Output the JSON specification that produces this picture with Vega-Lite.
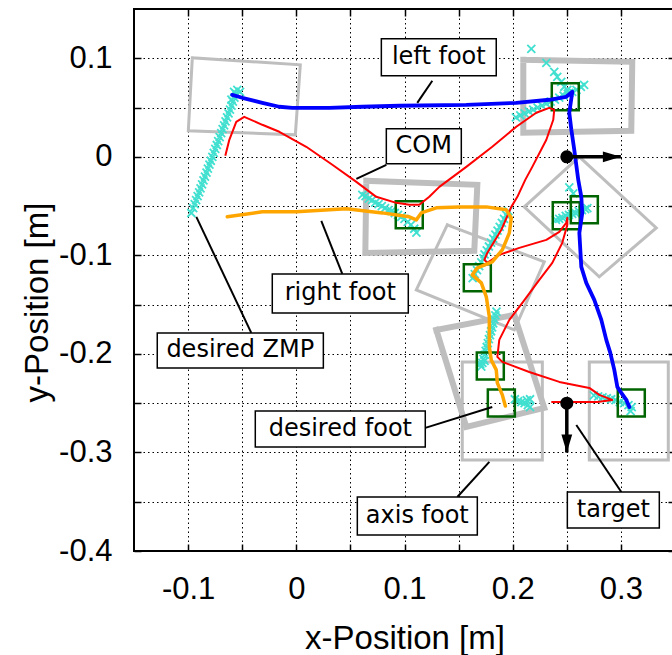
{
"$schema":"https://vega.github.io/schema/vega-lite/v6.json",
"width":541,"height":542,"autosize":"none",
"padding":{"left":134,"top":9,"right":0,"bottom":104},
"background":"white",
"config":{
 "view":{"stroke":"black","strokeWidth":2},
 "axis":{"labelFont":"Liberation Sans","labelFontSize":31,"labelColor":"black","titleFont":"Liberation Sans","titleFontSize":33,"titleFontWeight":"normal","titleColor":"black","gridColor":"black","gridDash":[1.5,3],"gridWidth":1,"gridOpacity":1,"tickColor":"black","tickWidth":1.5,"tickSize":-7,"domain":false,"labelFlush":false,"labelOverlap":false}
},
"datasets":{
 "feetThin":[
  {"id":1,"x":-0.0961,"y":0.1005},{"id":1,"x":0.0037,"y":0.0934},{"id":1,"x":-0.0009,"y":0.0223},{"id":1,"x":-0.0998,"y":0.0264},{"id":1,"x":-0.0961,"y":0.1005},
  {"id":4,"x":0.2107,"y":-0.0508},{"id":4,"x":0.2616,"y":0.0},{"id":4,"x":0.3327,"y":-0.0721},{"id":4,"x":0.28,"y":-0.1218},{"id":4,"x":0.2107,"y":-0.0508},
  {"id":5,"x":0.1396,"y":-0.069},{"id":5,"x":0.2292,"y":-0.1066},{"id":5,"x":0.2015,"y":-0.1756},{"id":5,"x":0.1109,"y":-0.135},{"id":5,"x":0.1396,"y":-0.069},
  {"id":7,"x":0.1534,"y":-0.2081},{"id":7,"x":0.2274,"y":-0.2081},{"id":7,"x":0.2274,"y":-0.3076},{"id":7,"x":0.1534,"y":-0.3076},{"id":7,"x":0.1534,"y":-0.2081},
  {"id":8,"x":0.2708,"y":-0.2081},{"id":8,"x":0.3438,"y":-0.2081},{"id":8,"x":0.3438,"y":-0.3076},{"id":8,"x":0.2708,"y":-0.3076},{"id":8,"x":0.2708,"y":-0.2081}
 ],
 "feetThick":[
  {"id":2,"x":0.2098,"y":0.0985},{"id":2,"x":0.3105,"y":0.0964},{"id":2,"x":0.3096,"y":0.0264},{"id":2,"x":0.2098,"y":0.0244},{"id":2,"x":0.2098,"y":0.0985},
  {"id":3,"x":0.0647,"y":-0.0244},{"id":3,"x":0.1673,"y":-0.0284},{"id":3,"x":0.1645,"y":-0.0954},{"id":3,"x":0.0638,"y":-0.0975},{"id":3,"x":0.0647,"y":-0.0244},
  {"id":6,"x":0.1294,"y":-0.1756},{"id":6,"x":0.2015,"y":-0.1604},{"id":6,"x":0.2292,"y":-0.2548},{"id":6,"x":0.1571,"y":-0.2741},{"id":6,"x":0.1294,"y":-0.1756}
 ],
 "zmp":[
  {"x":-0.097,"y":-0.057},{"x":-0.0953,"y":-0.052},{"x":-0.0939,"y":-0.048},{"x":-0.0926,"y":-0.044},{"x":-0.0912,"y":-0.04},{"x":-0.0898,"y":-0.036},{"x":-0.0885,"y":-0.032},{"x":-0.0871,"y":-0.028},{"x":-0.0858,"y":-0.024},{"x":-0.0844,"y":-0.02},{"x":-0.083,"y":-0.016},{"x":-0.0817,"y":-0.012},{"x":-0.0803,"y":-0.008},{"x":-0.079,"y":-0.004},{"x":-0.0776,"y":0.0},{"x":-0.0763,"y":0.004},{"x":-0.0749,"y":0.008},{"x":-0.0735,"y":0.012},{"x":-0.0722,"y":0.016},{"x":-0.0708,"y":0.02},{"x":-0.0694,"y":0.024},{"x":-0.0681,"y":0.028},{"x":-0.0667,"y":0.032},{"x":-0.0654,"y":0.036},{"x":-0.064,"y":0.04},{"x":-0.0626,"y":0.044},{"x":-0.0613,"y":0.048},{"x":-0.0599,"y":0.052},{"x":-0.0586,"y":0.056},{"x":-0.0572,"y":0.06},{"x":-0.0558,"y":0.064},{"x":-0.0545,"y":0.068},{"x":-0.052,"y":0.066},{"x":-0.0575,"y":0.066},{"x":-0.06,"y":0.058},
  {"x":0.061,"y":-0.0386},{"x":0.064,"y":-0.04},{"x":0.067,"y":-0.0425},{"x":0.07,"y":-0.044},{"x":0.073,"y":-0.0465},{"x":0.076,"y":-0.048},{"x":0.079,"y":-0.05},{"x":0.082,"y":-0.052},{"x":0.085,"y":-0.054},{"x":0.088,"y":-0.055},{"x":0.091,"y":-0.057},{"x":0.094,"y":-0.059},{"x":0.097,"y":-0.061},{"x":0.1,"y":-0.063},{"x":0.103,"y":-0.066},{"x":0.106,"y":-0.069},{"x":0.109,"y":-0.073},{"x":0.111,"y":-0.077},
  {"x":0.196,"y":-0.055},{"x":0.194,"y":-0.059},{"x":0.192,"y":-0.063},{"x":0.19,"y":-0.067},{"x":0.188,"y":-0.071},{"x":0.186,"y":-0.075},{"x":0.184,"y":-0.079},{"x":0.182,"y":-0.083},{"x":0.18,"y":-0.087},{"x":0.178,"y":-0.091},{"x":0.176,"y":-0.095},{"x":0.174,"y":-0.099},{"x":0.173,"y":-0.103},{"x":0.171,"y":-0.107},{"x":0.169,"y":-0.111},{"x":0.167,"y":-0.115},{"x":0.165,"y":-0.119},{"x":0.163,"y":-0.123},
  {"x":0.2523,"y":-0.031},{"x":0.256,"y":-0.037},
  {"x":0.24,"y":-0.064},{"x":0.243,"y":-0.063},{"x":0.246,"y":-0.062},{"x":0.249,"y":-0.06},{"x":0.252,"y":-0.059},{"x":0.255,"y":-0.058},{"x":0.258,"y":-0.057},{"x":0.261,"y":-0.055},{"x":0.264,"y":-0.054},{"x":0.267,"y":-0.053},{"x":0.269,"y":-0.052},
  {"x":0.2172,"y":0.1096},{"x":0.2311,"y":0.0954},{"x":0.2384,"y":0.0863},{"x":0.2412,"y":0.0812},{"x":0.2449,"y":0.0761},{"x":0.2477,"y":0.0711},{"x":0.2505,"y":0.068},{"x":0.2523,"y":0.065},
  {"x":0.203,"y":0.04},{"x":0.207,"y":0.042},{"x":0.211,"y":0.044},{"x":0.215,"y":0.046},{"x":0.219,"y":0.048},{"x":0.223,"y":0.05},{"x":0.227,"y":0.052},{"x":0.231,"y":0.054},{"x":0.235,"y":0.056},{"x":0.239,"y":0.058},{"x":0.243,"y":0.06},{"x":0.247,"y":0.062},{"x":0.251,"y":0.064},{"x":0.255,"y":0.066},{"x":0.259,"y":0.068},{"x":0.263,"y":0.071},{"x":0.266,"y":0.073},
  {"x":0.185,"y":-0.157},{"x":0.184,"y":-0.161},{"x":0.183,"y":-0.165},{"x":0.182,"y":-0.169},{"x":0.181,"y":-0.173},{"x":0.18,"y":-0.177},{"x":0.179,"y":-0.181},{"x":0.178,"y":-0.185},{"x":0.177,"y":-0.189},{"x":0.176,"y":-0.193},{"x":0.175,"y":-0.197},{"x":0.174,"y":-0.201},{"x":0.173,"y":-0.205},{"x":0.172,"y":-0.209},{"x":0.171,"y":-0.213},{"x":0.17,"y":-0.21},{"x":0.174,"y":-0.207},
  {"x":0.202,"y":-0.246},{"x":0.205,"y":-0.248},{"x":0.208,"y":-0.249},{"x":0.211,"y":-0.25},{"x":0.214,"y":-0.252},{"x":0.216,"y":-0.254},{"x":0.213,"y":-0.247},{"x":0.216,"y":-0.246},
  {"x":0.275,"y":-0.242},{"x":0.279,"y":-0.243},{"x":0.283,"y":-0.244},{"x":0.287,"y":-0.245},{"x":0.291,"y":-0.246},{"x":0.295,"y":-0.247},{"x":0.299,"y":-0.249},{"x":0.303,"y":-0.25},{"x":0.307,"y":-0.252},{"x":0.31,"y":-0.254},{"x":0.309,"y":-0.258}
 ],
 "desiredFoot":[
  {"x":0.1044,"y":-0.0589},{"x":0.2486,"y":0.0609},{"x":0.2495,"y":-0.0599},{"x":0.2662,"y":-0.0538},{"x":0.1673,"y":-0.1228},{"x":0.1793,"y":-0.2122},{"x":0.1895,"y":-0.2497},{"x":0.3096,"y":-0.2497}
 ],
 "com":[
  {"x":-0.0656,"y":0.001},{"x":-0.0619,"y":0.0173},{"x":-0.0555,"y":0.0355},{"x":-0.0481,"y":0.0406},{"x":-0.0314,"y":0.0325},{"x":-0.0157,"y":0.0254},{"x":0.0092,"y":0.0102},{"x":0.0333,"y":-0.0081},{"x":0.0555,"y":-0.0254},{"x":0.0739,"y":-0.0406},{"x":0.0924,"y":-0.0467},{"x":0.1044,"y":-0.0487},{"x":0.1137,"y":-0.0487},{"x":0.1229,"y":-0.0406},{"x":0.1322,"y":-0.0305},{"x":0.1571,"y":-0.0102},{"x":0.1811,"y":0.0102},{"x":0.2033,"y":0.0305},{"x":0.2218,"y":0.0447},{"x":0.2338,"y":0.0497},{"x":0.2384,"y":0.0477},{"x":0.2375,"y":0.0376},{"x":0.2311,"y":0.0173},{"x":0.2181,"y":-0.0102},{"x":0.2116,"y":-0.0234},{"x":0.2043,"y":-0.0406},{"x":0.1987,"y":-0.0508},{"x":0.1895,"y":-0.0741},{"x":0.1765,"y":-0.0975},{"x":0.1738,"y":-0.1046},{"x":0.1765,"y":-0.1076},{"x":0.1876,"y":-0.0995},{"x":0.2061,"y":-0.0924},{"x":0.2311,"y":-0.0843},{"x":0.2431,"y":-0.0761},{"x":0.2495,"y":-0.067},{"x":0.2505,"y":-0.0619},{"x":0.2505,"y":-0.069},{"x":0.2458,"y":-0.0873},{"x":0.2366,"y":-0.1076},{"x":0.2246,"y":-0.1249},{"x":0.2089,"y":-0.1482},{"x":0.1969,"y":-0.1655},{"x":0.1876,"y":-0.1858},{"x":0.1858,"y":-0.203},{"x":0.1904,"y":-0.2081},{"x":0.2153,"y":-0.2183},{"x":0.2431,"y":-0.2284},{"x":0.2708,"y":-0.2345},{"x":0.28,"y":-0.2416},{"x":0.292,"y":-0.2467},{"x":0.2782,"y":-0.2487},{"x":0.2495,"y":-0.2487},{"x":0.2357,"y":-0.2487}
 ],
 "rightFoot":[
  {"x":-0.0638,"y":-0.0609},{"x":-0.0314,"y":-0.0558},{"x":0.0,"y":-0.0558},{"x":0.0462,"y":-0.0528},{"x":0.0795,"y":-0.0569},{"x":0.1044,"y":-0.0609},{"x":0.1109,"y":-0.064},{"x":0.1155,"y":-0.0569},{"x":0.1294,"y":-0.0518},{"x":0.1506,"y":-0.0508},{"x":0.1756,"y":-0.0508},{"x":0.194,"y":-0.0538},{"x":0.1987,"y":-0.0619},{"x":0.1969,"y":-0.0772},{"x":0.1904,"y":-0.0944},{"x":0.1811,"y":-0.1066},{"x":0.1673,"y":-0.1127},{"x":0.1627,"y":-0.1198},{"x":0.171,"y":-0.1279},{"x":0.1756,"y":-0.1421},{"x":0.1784,"y":-0.1624},{"x":0.1784,"y":-0.1929},{"x":0.1802,"y":-0.2061},{"x":0.1848,"y":-0.2162},{"x":0.1858,"y":-0.2294},{"x":0.1904,"y":-0.2416},{"x":0.1932,"y":-0.2528}
 ],
 "leftFoot":[
  {"x":-0.0592,"y":0.0629},{"x":-0.0499,"y":0.0599},{"x":-0.0314,"y":0.0548},{"x":-0.0157,"y":0.0508},{"x":-0.0037,"y":0.0497},{"x":0.0305,"y":0.0497},{"x":0.061,"y":0.0508},{"x":0.0952,"y":0.0518},{"x":0.1571,"y":0.0528},{"x":0.2033,"y":0.0548},{"x":0.2338,"y":0.0579},{"x":0.2495,"y":0.0609},{"x":0.2551,"y":0.066},{"x":0.2523,"y":0.0447},{"x":0.2542,"y":0.0274},{"x":0.2569,"y":0.0071},{"x":0.2606,"y":-0.0234},{"x":0.2634,"y":-0.0406},{"x":0.2643,"y":-0.0569},{"x":0.2616,"y":-0.0772},{"x":0.2634,"y":-0.1117},{"x":0.268,"y":-0.1279},{"x":0.2754,"y":-0.1452},{"x":0.2819,"y":-0.1655},{"x":0.2865,"y":-0.1858},{"x":0.2902,"y":-0.199},{"x":0.2939,"y":-0.2162},{"x":0.2967,"y":-0.2335},{"x":0.3004,"y":-0.2396},{"x":0.305,"y":-0.2467},{"x":0.3078,"y":-0.2538}
 ],
 "target":[
  {"x":0.25,"y":0.0,"x2":0.3,"y2":0.0,"dir":"right"},
  {"x":0.25,"y":-0.25,"x2":0.25,"y2":-0.3,"dir":"down"}
 ],
 "leaders":[
  {"x":0.1118,"y":0.0548,"x2":0.1257,"y2":0.0772},
  {"x":0.0555,"y":-0.0223,"x2":0.0832,"y2":-0.0081},
  {"x":0.0231,"y":-0.065,"x2":0.0425,"y2":-0.1188},
  {"x":-0.0924,"y":-0.0609,"x2":-0.0416,"y2":-0.1787},
  {"x":0.1192,"y":-0.2751,"x2":0.1811,"y2":-0.2538},
  {"x":0.1488,"y":-0.3452,"x2":0.1784,"y2":-0.3096},
  {"x":0.2588,"y":-0.2721,"x2":0.3004,"y2":-0.3401}
 ],
 "labelBoxes":[
  {"label":"left foot","x":0.0786,"x2":0.1848,"y":0.1198,"y2":0.0822},
  {"label":"COM","x":0.0832,"x2":0.1525,"y":0.0284,"y2":-0.0071},
  {"label":"right foot","x":-0.0222,"x2":0.1035,"y":-0.1188,"y2":-0.1584},
  {"label":"desired ZMP","x":-0.1285,"x2":0.025,"y":-0.1787,"y2":-0.2142},
  {"label":"desired foot","x":-0.0379,"x2":0.1192,"y":-0.2579,"y2":-0.2944},
  {"label":"axis foot","x":0.0564,"x2":0.1673,"y":-0.3452,"y2":-0.3838},
  {"label":"target","x":0.2505,"x2":0.3355,"y":-0.3401,"y2":-0.3766}
 ],
 "labelTexts":[
  {"label":"left foot","x":0.1317,"y":0.101},
  {"label":"COM","x":0.1178,"y":0.0107},
  {"label":"right foot","x":0.0407,"y":-0.1386},
  {"label":"desired ZMP","x":-0.0518,"y":-0.1964},
  {"label":"desired foot","x":0.0407,"y":-0.2761},
  {"label":"axis foot","x":0.1118,"y":-0.3645},
  {"label":"target","x":0.293,"y":-0.3584}
 ]
},
"encoding":{
 "x":{"field":"x","type":"quantitative","scale":{"domain":[-0.15,0.35],"nice":false,"zero":false},
  "axis":{"orient":"bottom","values":[-0.1,-0.05,0,0.05,0.1,0.15,0.2,0.25,0.3],"grid":true,"labelExpr":"indexof([-0.4,-0.3,-0.2,-0.1,0,0.1,0.2,0.3], datum.value) >= 0 ? toString(datum.value) : ''","labelPadding":30,"labelBaseline":"top","title":"x-Position [m]","titleY":71,"titleBaseline":"top"}},
 "y":{"field":"y","type":"quantitative","scale":{"domain":[-0.4,0.15],"nice":false,"zero":false},
  "axis":{"orient":"left","values":[-0.4,-0.35,-0.3,-0.25,-0.2,-0.15,-0.1,-0.05,0,0.05,0.1],"grid":true,"labelExpr":"indexof([-0.4,-0.3,-0.2,-0.1,0,0.1,0.2,0.3], datum.value) >= 0 ? toString(datum.value) : ''","labelPadding":29,"labelBaseline":"middle","title":"y-Position [m]","titleX":-80,"titleY":293,"titleAngle":270,"titleBaseline":"bottom"}}
},
"layer":[
 {"layer":[
  {"data":{"name":"feetThin"},"mark":{"type":"line","stroke":"#bebebe","strokeWidth":3,"strokeCap":"square","strokeJoin":"miter"},"encoding":{"detail":{"field":"id"},"order":{"value":null}}},
  {"data":{"name":"feetThick"},"mark":{"type":"line","stroke":"#bebebe","strokeWidth":6,"strokeCap":"square","strokeJoin":"miter"},"encoding":{"detail":{"field":"id"},"order":{"value":null}}},
  {"data":{"name":"zmp"},"mark":{"type":"point","shape":"M-1,-1L1,1M-1,1L1,-1","size":64,"filled":false,"stroke":"#40e0d0","strokeWidth":1.8,"opacity":1}},
  {"data":{"name":"desiredFoot"},"mark":{"type":"point","shape":"square","size":729,"filled":false,"stroke":"#006400","strokeWidth":2.5,"opacity":1}},
  {"data":{"name":"com"},"mark":{"type":"line","stroke":"#ff0000","strokeWidth":2,"strokeJoin":"round"},"encoding":{"order":{"value":null}}},
  {"data":{"name":"rightFoot"},"mark":{"type":"line","stroke":"#ffa500","strokeWidth":3.5,"strokeJoin":"round","strokeCap":"round"},"encoding":{"order":{"value":null}}},
  {"data":{"name":"leftFoot"},"mark":{"type":"line","stroke":"#0000ff","strokeWidth":3.8,"strokeJoin":"round","strokeCap":"round"},"encoding":{"order":{"value":null}}},
  {"data":{"name":"target"},"mark":{"type":"rule","stroke":"black","strokeWidth":3.5},"encoding":{"x2":{"field":"x2"},"y2":{"field":"y2"}}},
  {"data":{"name":"target"},"mark":{"type":"point","shape":"circle","size":170,"filled":true,"fill":"black","opacity":1}},
  {"data":{"name":"target"},"transform":[{"filter":"datum.dir == 'right'"}],"mark":{"type":"point","shape":"M0,0L-1,-0.3L-1,0.3Z","size":1296,"filled":true,"fill":"black","opacity":1},"encoding":{"x":{"field":"x2","type":"quantitative"},"y":{"field":"y2","type":"quantitative"}}},
  {"data":{"name":"target"},"transform":[{"filter":"datum.dir == 'down'"}],"mark":{"type":"point","shape":"M0,0L-0.3,-1L0.3,-1Z","size":1296,"filled":true,"fill":"black","opacity":1},"encoding":{"x":{"field":"x2","type":"quantitative"},"y":{"field":"y2","type":"quantitative"}}},
  {"data":{"name":"leaders"},"mark":{"type":"rule","stroke":"black","strokeWidth":2},"encoding":{"x2":{"field":"x2"},"y2":{"field":"y2"}}},
  {"data":{"name":"labelBoxes"},"mark":{"type":"rect","fill":"white","stroke":"black","strokeWidth":1.5},"encoding":{"x2":{"field":"x2"},"y2":{"field":"y2"}}},
  {"data":{"name":"labelTexts"},"mark":{"type":"text","font":"DejaVu Sans","fontSize":24,"color":"black","align":"center","baseline":"middle"},"encoding":{"text":{"field":"label"}}}
 ]},
 {"data":{"name":"target"},"mark":{"type":"point","opacity":0},
  "encoding":{
   "x":{"field":"x","type":"quantitative","scale":{"domain":[-0.15,0.35],"nice":false,"zero":false},"axis":{"orient":"top","values":[-0.1,-0.05,0,0.05,0.1,0.15,0.2,0.25,0.3],"grid":false,"labels":false,"title":null}},
   "y":{"field":"y","type":"quantitative","scale":{"domain":[-0.4,0.15],"nice":false,"zero":false},"axis":{"orient":"right","values":[-0.4,-0.35,-0.3,-0.25,-0.2,-0.15,-0.1,-0.05,0,0.05,0.1],"grid":false,"labels":false,"title":null}}
  }}
],
"resolve":{"axis":{"x":"independent","y":"independent"}}
}
